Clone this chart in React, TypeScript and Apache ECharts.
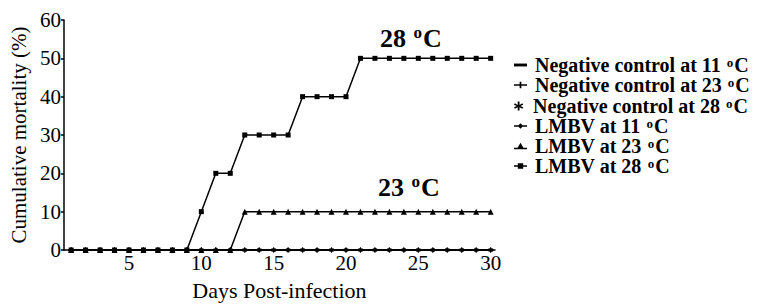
import React, { useEffect, useRef } from 'react';
import * as echarts from 'echarts';

const days = [1, 2, 3, 4, 5, 6, 7, 8, 9, 10, 11, 12, 13, 14, 15, 16, 17, 18, 19, 20, 21, 22, 23, 24, 25, 26, 27, 28, 29, 30];
const negCtrl11 = [0, 0, 0, 0, 0, 0, 0, 0, 0, 0, 0, 0, 0, 0, 0, 0, 0, 0, 0, 0, 0, 0, 0, 0, 0, 0, 0, 0, 0, 0];
const negCtrl23 = [0, 0, 0, 0, 0, 0, 0, 0, 0, 0, 0, 0, 0, 0, 0, 0, 0, 0, 0, 0, 0, 0, 0, 0, 0, 0, 0, 0, 0, 0];
const negCtrl28 = [0, 0, 0, 0, 0, 0, 0, 0, 0, 0, 0, 0, 0, 0, 0, 0, 0, 0, 0, 0, 0, 0, 0, 0, 0, 0, 0, 0, 0, 0];
const lmbv11 = [0, 0, 0, 0, 0, 0, 0, 0, 0, 0, 0, 0, 0, 0, 0, 0, 0, 0, 0, 0, 0, 0, 0, 0, 0, 0, 0, 0, 0, 0];
const lmbv23 = [0, 0, 0, 0, 0, 0, 0, 0, 0, 0, 0, 0, 10, 10, 10, 10, 10, 10, 10, 10, 10, 10, 10, 10, 10, 10, 10, 10, 10, 10];
const lmbv28 = [0, 0, 0, 0, 0, 0, 0, 0, 0, 10, 20, 20, 30, 30, 30, 30, 40, 40, 40, 40, 50, 50, 50, 50, 50, 50, 50, 50, 50, 50];

const seriesNames = [
  'Negative control at 11 °C',
  'Negative control at 23 °C',
  'Negative control at 28 °C',
  'LMBV at 11 °C',
  'LMBV at 23 °C',
  'LMBV at 28 °C',
];
const xTickLabels = [5, 10, 15, 20, 25, 30];
const yTickLabels = [0, 10, 20, 30, 40, 50, 60];

const FONT = 'Liberation Serif';

const plusPath = 'path://M0,4 L10,4 L10,6 L0,6 Z M4,0 L6,0 L6,10 L4,10 Z';
const starPath = 'path://M4,0 L6,0 L6,3.3 L8.9,1.6 L9.9,3.4 L7,5 L9.9,6.6 L8.9,8.4 L6,6.7 L6,10 L4,10 L4,6.7 L1.1,8.4 L0.1,6.6 L3,5 L0.1,3.4 L1.1,1.6 L4,3.3 Z';
const dashPath = 'path://M0,0 L10,0 L10,2 L0,2 Z';

const legendIcons = [
  'path://M1,3 L10,3 L10,5 L1,5 Z',
  'path://M0,3.2 L12,3.2 L12,4.8 L0,4.8 Z M5.2,1 L6.8,1 L6.8,7 L5.2,7 Z',
  'path://M5.2,0 L6.8,0 L6.8,3 L9.3,1.5 L10.1,2.9 L7.6,4 L10.1,5.1 L9.3,6.5 L6.8,5 L6.8,8 L5.2,8 L5.2,5 L2.7,6.5 L1.9,5.1 L4.4,4 L1.9,2.9 L2.7,1.5 L5.2,3 Z',
  'path://M0,3.3 L12,3.3 L12,4.7 L0,4.7 Z M6,1.5 L8.5,4 L6,6.5 L3.5,4 Z',
  'path://M0,4.5 L12,4.5 L12,6 L0,6 Z M6,0 L9.5,6 L2.5,6 Z',
  'path://M0,3.3 L12,3.3 L12,4.7 L0,4.7 Z M3.5,1.5 L8.5,1.5 L8.5,6.5 L3.5,6.5 Z',
];
const legendTops = [55, 75, 96, 116, 136, 156];

const toPairs = (vals: number[]) => days.map((d, i) => [d, vals[i]]);

export default function App() {
  const ref = useRef<HTMLDivElement>(null);
  useEffect(() => {
    if (!ref.current) return;
    const chart = echarts.init(ref.current, undefined, { renderer: 'svg' });
    const dataSets = [negCtrl11, negCtrl23, negCtrl28, lmbv11, lmbv23, lmbv28];
    const symbols: any[] = [dashPath, plusPath, starPath, 'circle', 'triangle', 'rect'];
    const symbolSizes: any[] = [[6, 1.5], 5, 5, 4, 6, 5];
    const series = seriesNames.map((name, i) => ({
      name,
      type: 'line',
      data: toPairs(dataSets[i]),
      symbol: symbols[i],
      symbolSize: symbolSizes[i],
      showSymbol: true,
      lineStyle: { color: '#000', width: 1.5 },
      itemStyle: { color: '#000' },
      z: 2 + i,
    }));
    const legends = seriesNames.map((name, i) => ({
      data: [{ name, icon: legendIcons[i] }],
      left: 514,
      top: legendTops[i],
      orient: 'vertical',
      padding: 0,
      itemWidth: 13,
      itemHeight: 9,
      itemGap: 0,
      selectedMode: false,
      formatter: (n: string) => n.replace('°C', '{sup|o}C'),
      textStyle: {
        fontFamily: FONT,
        fontSize: 20,
        lineHeight: 18,
        fontWeight: 'bold',
        color: '#000',
        padding: [0, 0, 0, 3],
        rich: {
          sup: { fontFamily: FONT, fontSize: 13, lineHeight: 8, fontWeight: 'bold', color: '#000', verticalAlign: 'top', padding: [0, 1, 0, 1] },
        },
      },
    }));
    chart.setOption({
      animation: false,
      backgroundColor: '#fff',
      textStyle: { fontFamily: FONT },
      grid: { left: 61, right: 274, top: 20, bottom: 56 },
      legend: legends,
      xAxis: {
        type: 'value',
        min: 0.5,
        max: 30.3,
        name: 'Days Post-infection',
        nameLocation: 'middle',
        nameGap: 29,
        nameTextStyle: { fontFamily: FONT, fontSize: 22, color: '#000' },
        axisLine: { lineStyle: { color: '#000', width: 1.5 } },
        axisTick: { show: false },
        axisLabel: {
          customValues: xTickLabels,
          fontFamily: FONT,
          fontSize: 21,
          color: '#000',
          margin: 2,
        },
        splitLine: { show: false },
      },
      yAxis: {
        type: 'value',
        min: 0,
        max: 60,
        interval: 10,
        name: 'Cumulative mortality (%)',
        nameLocation: 'middle',
        nameGap: 27,
        nameTextStyle: { fontFamily: FONT, fontSize: 21, color: '#000' },
        axisLine: { show: true, lineStyle: { color: '#000', width: 1.5 } },
        axisTick: { show: true, length: 3, lineStyle: { color: '#000', width: 1.5 } },
        axisLabel: {
          customValues: yTickLabels,
          fontFamily: FONT,
          fontSize: 21,
          color: '#000',
          margin: 3,
        },
        splitLine: { show: false },
      },
      graphic: [
        {
          type: 'text',
          left: 380,
          top: 24,
          style: {
            text: '28 {sup|o}C',
            fontFamily: FONT,
            fontSize: 26,
            fontWeight: 'bold',
            fill: '#000',
            rich: { sup: { fontFamily: FONT, fontSize: 17, fontWeight: 'bold', fill: '#000', verticalAlign: 'top', padding: [0, 1, 11, 1] } },
          },
        },
        {
          type: 'text',
          left: 378,
          top: 173,
          style: {
            text: '23 {sup|o}C',
            fontFamily: FONT,
            fontSize: 26,
            fontWeight: 'bold',
            fill: '#000',
            rich: { sup: { fontFamily: FONT, fontSize: 17, fontWeight: 'bold', fill: '#000', verticalAlign: 'top', padding: [0, 1, 11, 1] } },
          },
        },
      ],
      series,
    });
    return () => chart.dispose();
  }, []);
  return <div ref={ref} style={{ width: 769, height: 306, position: 'absolute', left: 0, top: 0 }} />;
}
